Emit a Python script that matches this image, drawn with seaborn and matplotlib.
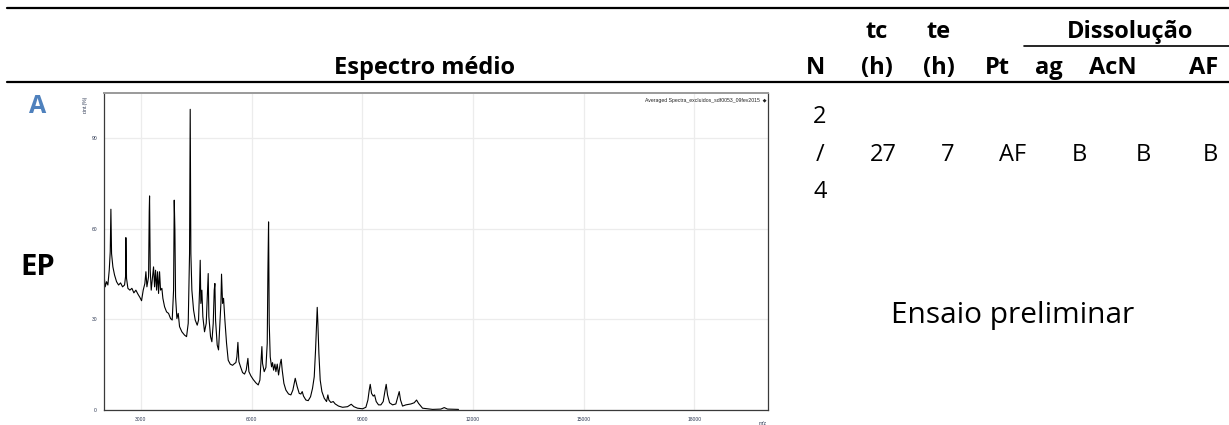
import matplotlib
matplotlib.use("Agg")
import matplotlib.pyplot as plt
from matplotlib.lines import Line2D
from matplotlib.ticker import MultipleLocator
import seaborn as sns
import pandas as pd

# ---------------- data ----------------
mz_values = [2006, 2033, 2069, 2105, 2142, 2169, 2187, 2205, 2241, 2286, 2340, 2395, 2449, 2503,
             2557, 2584, 2593, 2611, 2648, 2702, 2756, 2810, 2864, 2919, 2973, 3018, 3063, 3108,
             3136, 3163, 3208, 3226, 3235, 3253, 3280, 3316, 3343, 3371, 3398, 3425, 3452, 3479,
             3506, 3533, 3569, 3596, 3642, 3696, 3750, 3804, 3849, 3886, 3904, 3922, 3940, 3976,
             4012, 4048, 4111, 4184, 4238, 4283, 4319, 4337, 4355, 4382, 4428, 4473, 4527, 4563,
             4590, 4608, 4626, 4653, 4680, 4725, 4771, 4807, 4825, 4843, 4888, 4924, 4961, 4988,
             5006, 5024, 5069, 5105, 5141, 5169, 5186, 5214, 5241, 5277, 5322, 5367, 5422, 5485,
             5539, 5575, 5602, 5630, 5657, 5702, 5756, 5810, 5855, 5901, 5928, 5982, 6045, 6117,
             6181, 6226, 6262, 6280, 6298, 6343, 6389, 6425, 6443, 6461, 6479, 6506, 6542, 6569,
             6597, 6633, 6660, 6696, 6732, 6777, 6804, 6831, 6877, 6931, 7003, 7066, 7120, 7184,
             7238, 7292, 7337, 7373, 7409, 7473, 7536, 7599, 7653, 7699, 7735, 7762, 7780, 7798,
             7825, 7861, 7907, 7970, 8033, 8069, 8096, 8150, 8214, 8268, 8358, 8467, 8602, 8702,
             8774, 8873, 9009, 9099, 9154, 9190, 9217, 9253, 9298, 9334, 9379, 9442, 9506, 9569,
             9614, 9650, 9686, 9741, 9822, 9912, 9966, 10003, 10039, 10093, 10183, 10319, 10409,
             10473, 10527, 10635, 10906, 11132, 11223, 11313, 11611]
intensity_values = [44.1, 40.8, 42.5, 41.4, 46.3, 52.4, 66.5, 51.8, 47.4, 44.7, 42.5, 41.4, 42.1, 40.8,
                    41.4, 44.1, 57.1, 43.6, 40.3, 39.7, 40.3, 38.8, 39.7, 38.4, 37.3, 36.2, 39.7, 41.9,
                    45.8, 40.8, 44.1, 65.8, 70.9, 46.3, 39.7, 44.1, 47.4, 40.8, 46.3, 39.7, 45.8, 38.6,
                    45.8, 39.7, 40.3, 37.0, 34.2, 32.5, 32.0, 30.3, 29.8, 39.7, 69.5, 59.6, 37.5, 30.3,
                    32.0, 27.6, 25.9, 24.8, 24.3, 28.7, 51.8, 99.6, 51.8, 39.7, 33.1, 29.8, 28.1, 29.8,
                    39.7, 49.6, 35.3, 39.7, 30.9, 25.9, 28.7, 39.7, 45.2, 30.9, 24.3, 22.6, 28.7, 39.7,
                    41.9, 29.8, 21.5, 19.9, 28.7, 35.3, 45.0, 35.3, 37.0, 29.8, 22.1, 16.5, 15.2, 14.8,
                    15.4, 15.7, 17.6, 22.4, 16.0, 14.3, 12.4, 11.9, 13.2, 17.1, 12.7, 11.3, 10.1, 9.0,
                    8.3, 9.9, 17.6, 21.0, 15.4, 12.7, 14.1, 22.1, 45.8, 62.3, 28.7, 17.6, 14.3, 15.7,
                    13.2, 15.2, 12.7, 15.2, 11.6, 15.4, 16.8, 13.2, 8.8, 6.6, 5.3, 5.0, 6.6, 10.5,
                    7.7, 5.5, 5.3, 6.1, 4.6, 3.3, 3.1, 4.4, 7.2, 11.0, 19.9, 28.7, 34.0, 28.7,
                    18.8, 9.9, 6.1, 3.9, 2.8, 5.0, 3.3, 2.5, 2.8, 2.0, 1.3, 0.9, 1.1, 1.9,
                    1.1, 0.6, 0.4, 0.9, 3.3, 6.6, 8.5, 5.5, 4.6, 5.0, 2.8, 1.7, 1.7, 2.8,
                    6.1, 8.5, 5.0, 2.4, 1.7, 2.0, 4.4, 6.1, 3.3, 1.3, 1.7, 2.0, 2.4,
                    3.3, 2.2, 0.6, 0.2, 0.3, 0.8, 0.3, 0.2]

spectrum_name = "Averaged Spectra_excluidos_sdf0053_09fev2015"
x_ticks = [3000, 6000, 9000, 12000, 15000, 18000]
y_ticks = [0, 30, 60, 90]

header_main = "Espectro médio"
header_row1 = ["tc", "te"]
header_row2 = ["N", "(h)", "(h)", "Pt", "ag", "AcN", "AF"]
group_header = "Dissolução"
n_value = ["2", "/", "4"]
row_values = ["27", "7", "AF", "B", "B", "B"]
panel_letter = "A"
row_label = "EP"
note_text = "Ensaio preliminar"

# ---------------- figure ----------------
W, H = 1229, 425
sns.set_style("white")
plt.rcParams["font.family"] = ["Open Sans", "DejaVu Sans"]
fig = plt.figure(figsize=(W / 100, H / 100), dpi=100)


def fx(px):
    return px / W


def fy(py):
    return 1 - py / H


# spectrum axes
ax = fig.add_axes([fx(104), 15 / H, 664 / W, 317 / H])
df = pd.DataFrame({"mz": mz_values, "intensity": intensity_values})
sns.lineplot(data=df, x="mz", y="intensity", ax=ax, color="black", lw=0.8,
             estimator=None, sort=False)
ax.set_xlim(2000, 20000)
ax.set_ylim(0, 105)
ax.set_xticks(x_ticks)
ax.set_yticks(y_ticks)
ax.xaxis.set_minor_locator(MultipleLocator(1000))
ax.yaxis.set_minor_locator(MultipleLocator(10))
ax.set_xlabel("")
ax.set_ylabel("")
small = ["Liberation Sans", "DejaVu Sans"]
for lab in ax.get_xticklabels() + ax.get_yticklabels():
    lab.set_fontfamily(small)
ax.tick_params(axis="both", which="major", length=3, width=0.7, labelsize=3.6,
               colors="#444444", labelcolor="#2a3550", pad=2, direction="out")
ax.tick_params(axis="both", which="minor", length=2.5, width=0.6, colors="#444444",
               direction="out")
ax.grid(True, which="major", color="#ececec", lw=0.9)
for side in ["left", "bottom", "right"]:
    ax.spines[side].set_color("#3a3a3a")
    ax.spines[side].set_linewidth(0.9)
    ax.spines[side].set_visible(True)
ax.spines["top"].set_color("#9a9a9a")
ax.spines["top"].set_linewidth(1.4)
ax.spines["top"].set_visible(True)

ax.text(0.9975, 0.976, spectrum_name + "  \u25C6", transform=ax.transAxes, ha="right",
        va="center", fontsize=3.7, family=small, color="#222222")
fig.text(fx(85), fy(104), "r.int.(%)", rotation=90, ha="center", va="center",
         fontsize=3.6, family=small, color="#2a3550")
fig.text(fx(763), fy(421), "m/z", ha="center", va="top", fontsize=3.6, family=small,
         color="#2a3550")

# table rules
fig.add_artist(Line2D([fx(7), 1], [fy(8.3), fy(8.3)], color="black", lw=1.6))
fig.add_artist(Line2D([fx(7), 1], [fy(82), fy(82)], color="black", lw=1.6))
fig.add_artist(Line2D([fx(1024), 1], [fy(46), fy(46)], color="black", lw=1.2))

# headers
hb = dict(fontsize=17, fontweight="bold", color="black", va="baseline", ha="center")
fig.text(fx(425), fy(74), header_main, **hb)
for x, t in zip([877, 939], header_row1):
    fig.text(fx(x), fy(38), t, **hb)
fig.text(fx(1130), fy(38), group_header, **hb)
for x, t in zip([815, 877, 939, 997, 1049, 1113, 1204], header_row2):
    fig.text(fx(x), fy(74), t, **hb)

# values
rv = dict(fontsize=17, color="black", va="baseline", ha="center")
for y, t in zip([123, 161, 198], n_value):
    fig.text(fx(820), fy(y), t, **rv)
for x, t in zip([883, 948, 1013, 1079, 1143, 1210], row_values):
    fig.text(fx(x), fy(161), t, **rv)

fig.text(fx(38), fy(113), panel_letter, fontsize=18, fontweight="bold", color="#4F81BD",
         ha="center", va="baseline")
fig.text(fx(38), fy(275), row_label, fontsize=21, fontweight="bold", color="black",
         ha="center", va="baseline")
fig.text(fx(1013), fy(323), note_text, fontsize=21.5, color="black", ha="center",
         va="baseline")

fig.savefig("out.png", dpi=100)
